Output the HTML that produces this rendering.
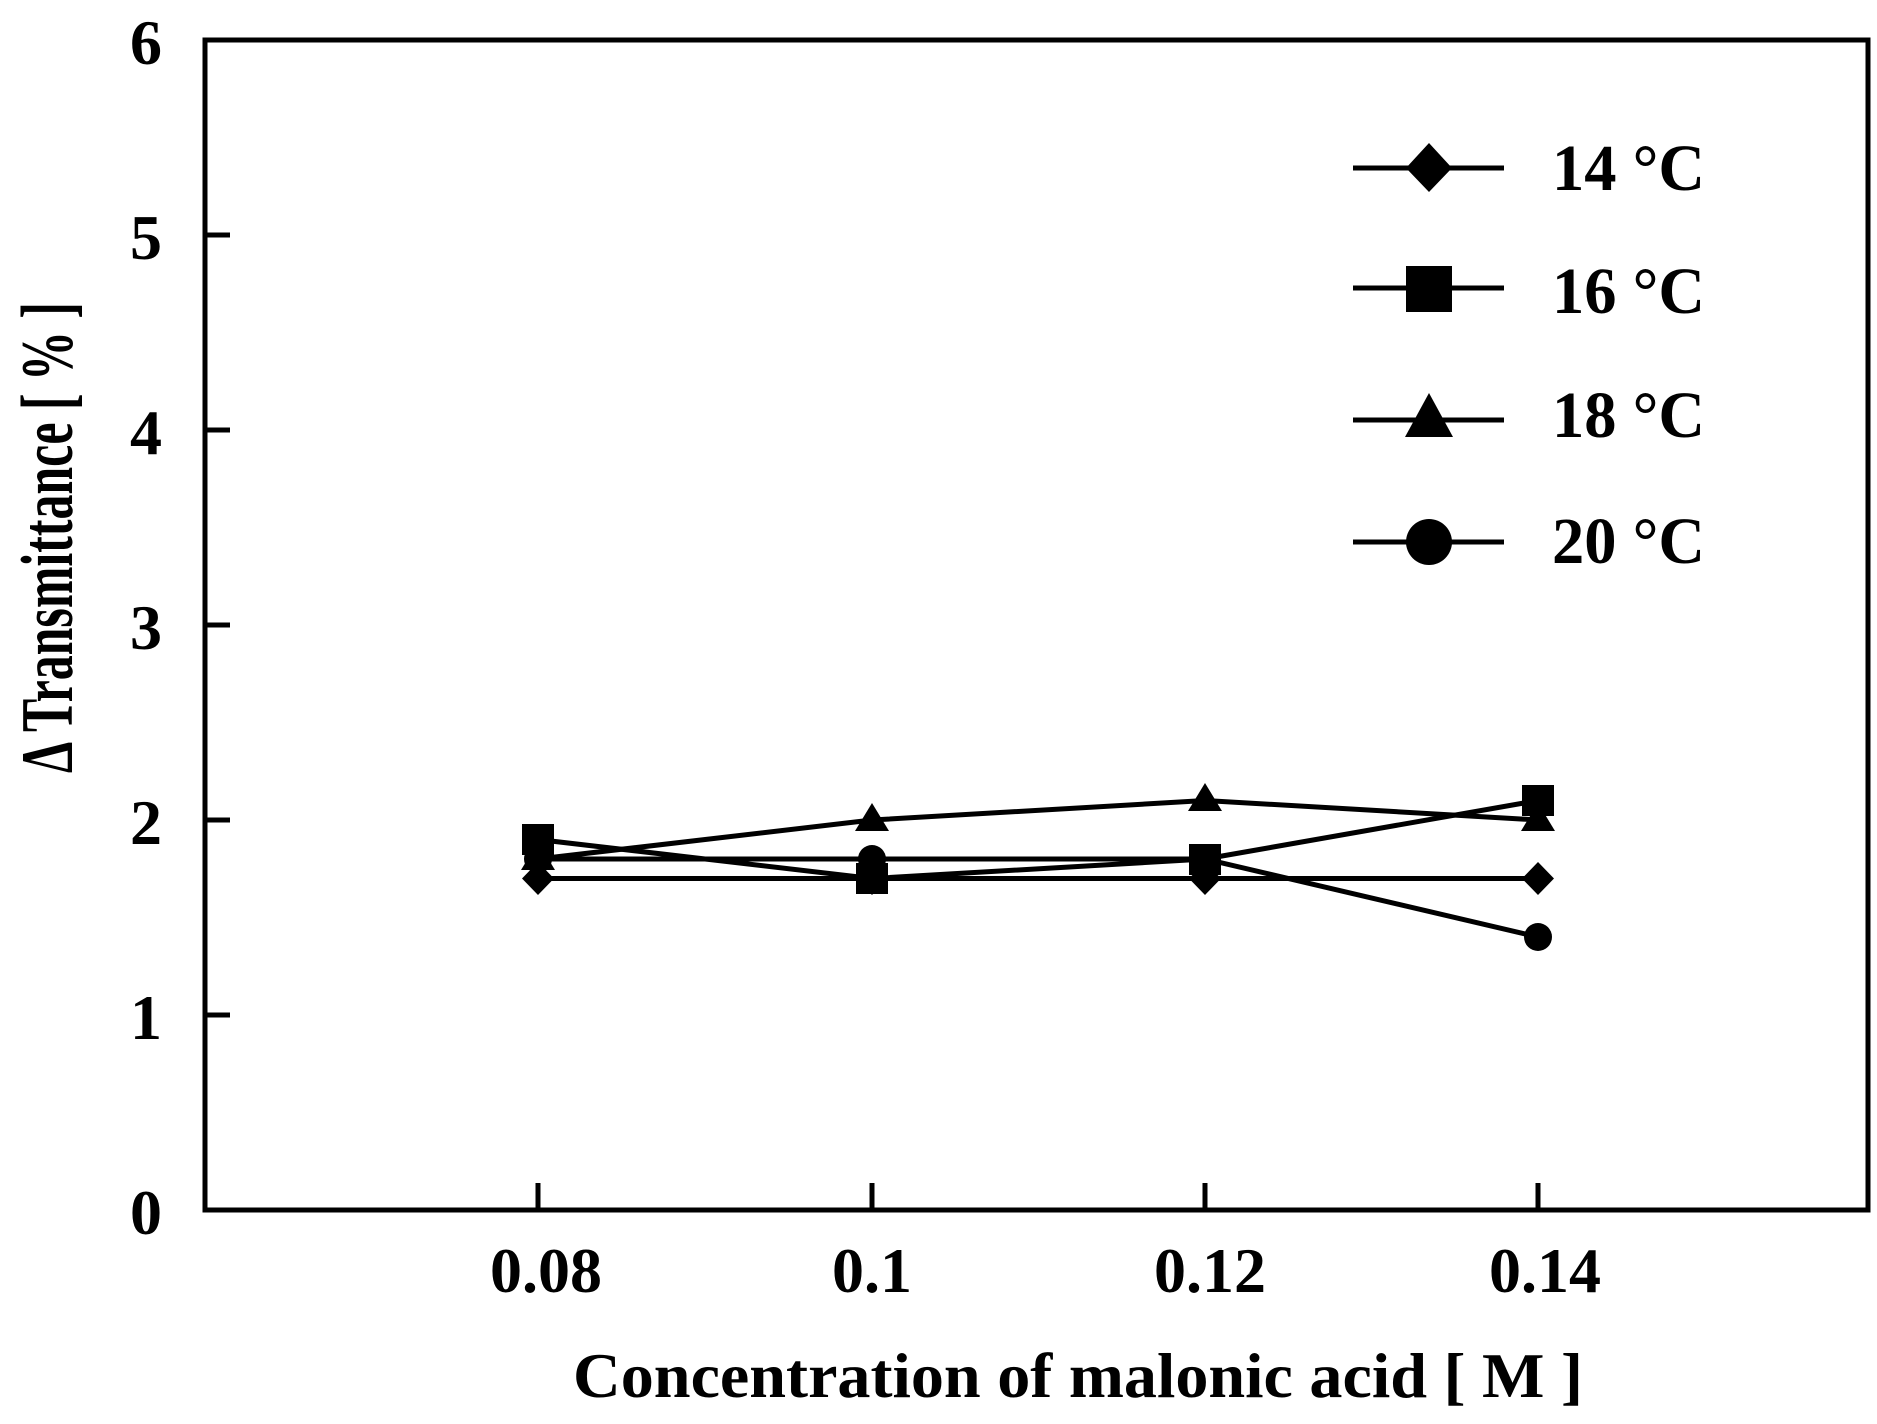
<!DOCTYPE html>
<html><head><meta charset="utf-8"><style>
html,body{margin:0;padding:0;background:#fff;}
svg{display:block;}
text{font-family:"Liberation Serif",serif;font-weight:bold;fill:#000;}
</style></head><body>
<svg width="1877" height="1424" viewBox="0 0 1877 1424">
<g stroke="#000" stroke-width="5" fill="none">
<rect x="205" y="40" width="1663" height="1170"/>
<line x1="205" y1="235" x2="230" y2="235"/>
<line x1="205" y1="430" x2="230" y2="430"/>
<line x1="205" y1="625" x2="230" y2="625"/>
<line x1="205" y1="820" x2="230" y2="820"/>
<line x1="205" y1="1015" x2="230" y2="1015"/>
<line x1="538" y1="1210" x2="538" y2="1183"/>
<line x1="872" y1="1210" x2="872" y2="1183"/>
<line x1="1205" y1="1210" x2="1205" y2="1183"/>
<line x1="1538" y1="1210" x2="1538" y2="1183"/>
</g>
<g font-size="64" text-anchor="end">
<text x="162" y="64">6</text>
<text x="162" y="259">5</text>
<text x="162" y="454">4</text>
<text x="162" y="649">3</text>
<text x="162" y="844">2</text>
<text x="162" y="1039">1</text>
<text x="162" y="1234">0</text>
</g>
<g font-size="64" text-anchor="middle">
<text x="546" y="1292">0.08</text>
<text x="872" y="1292">0.1</text>
<text x="1210" y="1292">0.12</text>
<text x="1545" y="1292">0.14</text>
</g>
<text x="573" y="1397" font-size="64" textLength="1010" lengthAdjust="spacingAndGlyphs">Concentration of malonic acid [ M ]</text>
<text transform="translate(72,773) rotate(-90)" font-size="74" textLength="471" lengthAdjust="spacingAndGlyphs">Δ Transmittance [ % ]</text>
<g stroke="#000" stroke-width="5" fill="none">
<polyline points="538,878.5 872,878.5 1205,878.5 1538,878.5"/>
<polyline points="538,839.5 872,878.5 1205,859 1538,800.5"/>
<polyline points="538,859 872,820 1205,800.5 1538,820"/>
<polyline points="538,859 872,859 1205,859 1538,937"/>
</g>
<g fill="#000">
<polygon points="538,862 554,878.5 538,895 522,878.5"/>
<polygon points="872,862 888,878.5 872,895 856,878.5"/>
<polygon points="1205,862 1221,878.5 1205,895 1189,878.5"/>
<polygon points="1538,862 1554,878.5 1538,895 1522,878.5"/>
<rect x="522" y="824" width="32" height="31"/>
<rect x="856" y="863" width="32" height="31"/>
<rect x="1189" y="844" width="32" height="31"/>
<rect x="1522" y="785" width="32" height="31"/>
<polygon points="538,842 555,870 521,870"/>
<polygon points="872,803 889,831 855,831"/>
<polygon points="1205,783 1222,811 1188,811"/>
<polygon points="1538,803 1555,831 1521,831"/>
<circle cx="538" cy="859" r="14"/>
<circle cx="872" cy="859" r="14"/>
<circle cx="1205" cy="859" r="14"/>
<circle cx="1538" cy="937" r="14"/>
</g>
<g stroke="#000" stroke-width="5">
<line x1="1353" y1="168" x2="1504" y2="168"/>
<line x1="1353" y1="288" x2="1504" y2="288"/>
<line x1="1353" y1="420" x2="1504" y2="420"/>
<line x1="1353" y1="542" x2="1504" y2="542"/>
</g>
<g fill="#000">
<polygon points="1429,143 1452,168 1429,192 1406,168"/>
<rect x="1406" y="266" width="46" height="46"/>
<polygon points="1429,393 1453,437 1405,437"/>
<circle cx="1429" cy="542" r="23"/>
</g>
<g font-size="66">
<text x="1552" y="190" textLength="153" lengthAdjust="spacingAndGlyphs">14 °C</text>
<text x="1552" y="313" textLength="153" lengthAdjust="spacingAndGlyphs">16 °C</text>
<text x="1552" y="437" textLength="153" lengthAdjust="spacingAndGlyphs">18 °C</text>
<text x="1552" y="563" textLength="153" lengthAdjust="spacingAndGlyphs">20 °C</text>
</g>
</svg>
</body></html>
